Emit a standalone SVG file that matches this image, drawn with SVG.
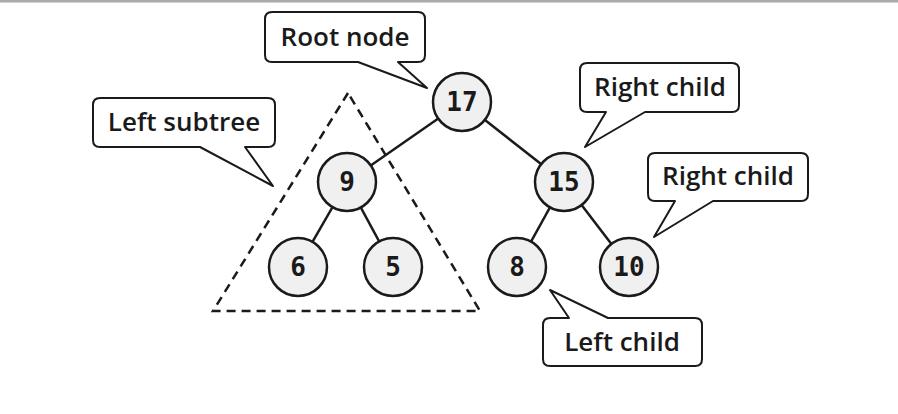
<svg xmlns="http://www.w3.org/2000/svg" width="898" height="414" viewBox="0 0 898 414">
<style>
.node circle{fill:#f0f0f0;stroke:#1a1a1a;stroke-width:2.5}
.node text{font-family:"DejaVu Sans Mono","Liberation Mono",monospace;font-weight:bold;font-size:26px;fill:#1a1a1a;text-anchor:middle;dominant-baseline:central}
.edge{stroke:#1a1a1a;stroke-width:2.5;fill:none}
.callout path{fill:#fff;stroke:#1a1a1a;stroke-width:2;stroke-linejoin:round}
.callout text{font-family:"Open Sans","Noto Sans","Liberation Sans",sans-serif;font-weight:600;font-size:26px;fill:#1a1a1a;text-anchor:middle;dominant-baseline:central}
.subtree{fill:none;stroke:#1a1a1a;stroke-width:2.5;stroke-dasharray:9 6}
</style>
<rect x="0" y="0" width="898" height="414" fill="#fff"/>
<rect x="0" y="0" width="898" height="2.5" fill="#aaaaaa"/>
<polygon class="subtree" points="348,93 213,311 480,311"/>
<g id="connectors">
<line class="edge" x1="462" y1="102" x2="347" y2="182"/>
<line class="edge" x1="462" y1="102" x2="564" y2="182"/>
<line class="edge" x1="347" y1="182" x2="298" y2="267"/>
<line class="edge" x1="347" y1="182" x2="393" y2="267"/>
<line class="edge" x1="564" y1="182" x2="517" y2="267"/>
<line class="edge" x1="564" y1="182" x2="629" y2="267"/>
</g>
<g id="n17" class="node"><circle cx="462" cy="102" r="29"/><text x="462" y="102">17</text></g>
<g id="n9" class="node"><circle cx="347" cy="182" r="29"/><text x="347" y="182">9</text></g>
<g id="n15" class="node"><circle cx="564" cy="182" r="29"/><text x="564" y="182">15</text></g>
<g id="n6" class="node"><circle cx="298" cy="267" r="29"/><text x="298" y="267">6</text></g>
<g id="n5" class="node"><circle cx="393" cy="267" r="29"/><text x="393" y="267">5</text></g>
<g id="n8" class="node"><circle cx="517" cy="267" r="29"/><text x="517" y="267">8</text></g>
<g id="n10" class="node"><circle cx="629" cy="267" r="29"/><text x="629" y="267">10</text></g>
<g id="c-root" class="callout">
<path d="M272,12 H418 Q425,12 425,19 V55 Q425,62 418,62 H398 L427,88 L358,62 H272 Q265,62 265,55 V19 Q265,12 272,12 Z"/>
<text x="345" y="36">Root node</text>
</g>
<g id="c-left-subtree" class="callout">
<path d="M100,98 H268 Q275,98 275,105 V140 Q275,147 268,147 H245 L273,186 L200,147 H100 Q93,147 93,140 V105 Q93,98 100,98 Z"/>
<text x="184" y="121">Left subtree</text>
</g>
<g id="c-right-child-1" class="callout">
<path d="M587,63 H732 Q739,63 739,70 V105 Q739,112 732,112 H645 L585,147 L606,112 H587 Q580,112 580,105 V70 Q580,63 587,63 Z"/>
<text x="660" y="86">Right child</text>
</g>
<g id="c-right-child-2" class="callout">
<path d="M655,153 H801 Q808,153 808,160 V194 Q808,201 801,201 H713 L654,237 L675,201 H655 Q648,201 648,194 V160 Q648,153 655,153 Z"/>
<text x="728" y="175">Right child</text>
</g>
<g id="c-left-child" class="callout">
<path d="M550,318 H569 L550,290 L608,318 H695 Q702,318 702,325 V359 Q702,366 695,366 H550 Q543,366 543,359 V325 Q543,318 550,318 Z"/>
<text x="622" y="341">Left child</text>
</g>
</svg>
